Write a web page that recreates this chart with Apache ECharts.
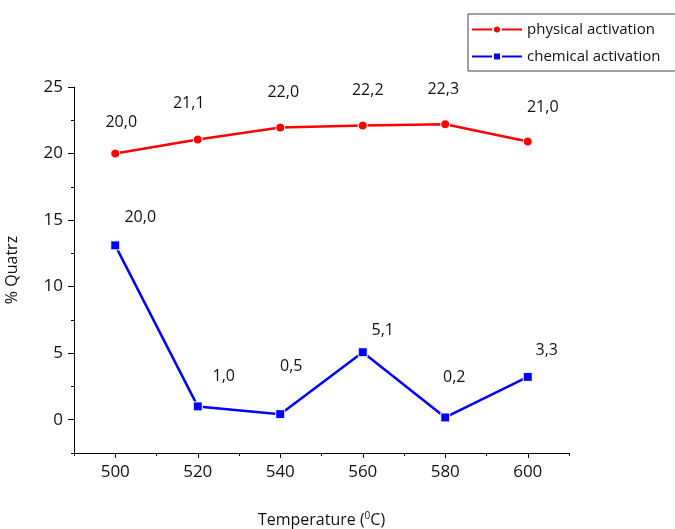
<!DOCTYPE html>
<html>
<head>
<meta charset="utf-8">
<script src="https://cdn.jsdelivr.net/npm/echarts@6/dist/echarts.min.js"></script>
<style>html,body{margin:0;padding:0;background:#fff;}#c{width:675px;height:529px;}</style>
</head>
<body>
<div id="c"></div>
<script>
var temperatures = [500, 520, 540, 560, 580, 600];
var physicalValues = [20.0, 21.05, 21.95, 22.1, 22.2, 20.9];
var physicalLabels = ["20,0", "21,1", "22,0", "22,2", "22,3", "21,0"];
var chemicalValues = [13.1, 1.0, 0.42, 5.07, 0.17, 3.22];
var chemicalLabels = ["20,0", "1,0", "0,5", "5,1", "0,2", "3,3"];
var xTickLabels = [500, 520, 540, 560, 580, 600];
var xMinorTicks = [490, 510, 530, 550, 570, 590, 610];
var yTickLabels = [0, 5, 10, 15, 20, 25];
var yMinorTicks = [-2.5, 2.5, 7.5, 12.5, 17.5, 22.5];

// label offsets (style only)
var physOffsets = [[6,-31],[-9,-36],[3,-35],[5,-35],[-2,-35],[15,-34]];
var chemOffsets = [[25,-28],[26,-30],[11,-48],[20,-22],[9,-40],[19,-26]];

var FONT = 'Open Sans';
function mk(vals, labels, offs) {
  return vals.map(function (v, i) {
    return {
      value: [temperatures[i], v],
      label: { show: true, position: 'inside', offset: offs[i], formatter: labels[i],
               color: '#111', fontSize: 16, fontFamily: FONT }
    };
  });
}

var axisLineStyle = { color: '#000', width: 1 };
var chart = echarts.init(document.getElementById('c'));
chart.setOption({
  animation: false,
  backgroundColor: '#fff',
  textStyle: { fontFamily: FONT },
  legend: {
    left: 468, top: 14,
    orient: 'vertical',
    itemWidth: 50, itemHeight: 10, itemGap: 12,
    padding: [8, 20, 7, 3],
    borderColor: '#444', borderWidth: 1,
    textStyle: { fontSize: 15, color: '#111', fontFamily: FONT },
    data: ['physical activation', 'chemical activation']
  },
  grid: { left: 74, right: 106, top: 87, bottom: 76, containLabel: false, outerBoundsMode: 'none' },
  xAxis: [{
    type: 'value', min: 490, max: 610,
    name: 'Temperature ({sup|0}C)', nameLocation: 'middle', nameGap: 58,
    nameTextStyle: { fontSize: 16, color: '#111', fontFamily: FONT,
      rich: { sup: { fontSize: 10, verticalAlign: 'top', padding: [0,0,8,0], color: '#111' } } },
    axisLine: { show: true, onZero: false, lineStyle: axisLineStyle },
    axisTick: { show: true, inside: false, length: 5, lineStyle: axisLineStyle, customValues: xTickLabels },
    axisLabel: { fontSize: 17, color: '#111', margin: 11, customValues: xTickLabels },
    splitLine: { show: false }
  }, {
    type: 'value', min: 490, max: 610, position: 'bottom',
    axisLine: { show: false, onZero: false },
    axisTick: { show: true, length: 3, lineStyle: axisLineStyle, customValues: xMinorTicks },
    axisLabel: { show: false, customValues: xMinorTicks },
    splitLine: { show: false }
  }],
  yAxis: [{
    type: 'value', min: -2.5, max: 25,
    name: '% Quatrz', nameLocation: 'middle', nameGap: 54,
    nameTextStyle: { fontSize: 16, color: '#111', fontFamily: FONT },
    axisLine: { show: true, onZero: false, lineStyle: axisLineStyle },
    axisTick: { show: true, length: 6, lineStyle: axisLineStyle, customValues: yTickLabels },
    axisLabel: { fontSize: 17, color: '#111', margin: 11, customValues: yTickLabels },
    splitLine: { show: false }
  }, {
    type: 'value', min: -2.5, max: 25, position: 'left',
    axisLine: { show: false, onZero: false },
    axisTick: { show: true, length: 3, lineStyle: axisLineStyle, customValues: yMinorTicks },
    axisLabel: { show: false, customValues: yMinorTicks },
    splitLine: { show: false }
  }],
  series: [{
    name: 'physical activation', type: 'line',
    data: mk(physicalValues, physicalLabels, physOffsets),
    symbol: 'circle', symbolSize: 9,
    itemStyle: { color: '#ff0000', borderColor: '#fff', borderWidth: 1 },
    lineStyle: { color: '#ff0000', width: 2.5 }
  }, {
    name: 'chemical activation', type: 'line',
    data: mk(chemicalValues, chemicalLabels, chemOffsets),
    symbol: 'rect', symbolSize: 9,
    itemStyle: { color: '#0000ff', borderColor: '#fff', borderWidth: 1 },
    lineStyle: { color: '#0000ff', width: 2.5 }
  }]
});
</script>
</body>
</html>
